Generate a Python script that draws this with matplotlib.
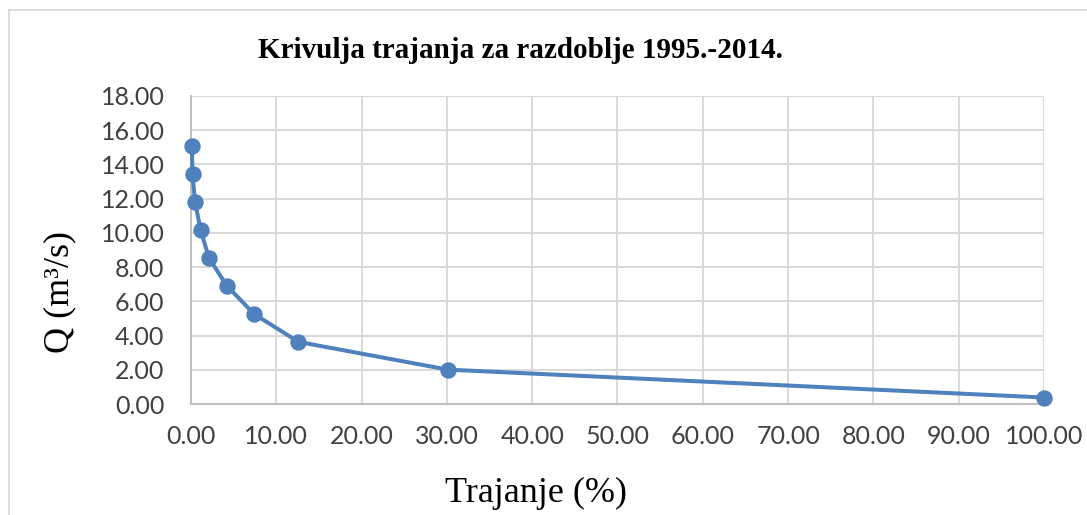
import numpy as np
import matplotlib.pyplot as plt
from matplotlib.lines import Line2D

# duration curve values
trajanje = [0.1, 0.18, 0.47, 1.13, 2.1, 4.2, 7.4, 12.6, 30.1, 100.0]
protok = [15.07, 13.43, 11.81, 10.17, 8.54, 6.91, 5.26, 3.63, 2.01, 0.38]

x_ticks = np.arange(0, 101, 10)
y_ticks = np.arange(0, 19, 2)

blue = '#4F81BD'
grid_col = '#D9D9D9'
text_col = '#404040'

fig = plt.figure(figsize=(10.87, 5.15), dpi=100)
ax = fig.add_axes([0.1757, 0.2155, 0.7847, 0.5981])

ax.plot(trajanje, protok, '-o', color=blue, lw=2.9, markersize=10.8, zorder=3, clip_on=False)

ax.set_xlim(0, 100)
ax.set_ylim(0, 18)
ax.set_xticks(x_ticks)
ax.set_yticks(y_ticks)
ax.set_xticklabels(['%.2f' % v for v in x_ticks])
ax.set_yticklabels(['%.2f' % v for v in y_ticks])

ax.grid(True, color=grid_col, lw=1.4)
ax.set_axisbelow(True)
for s in ['top', 'right']:
    ax.spines[s].set_visible(False)
for s in ['left', 'bottom']:
    ax.spines[s].set_color('#BFBFBF')
    ax.spines[s].set_linewidth(1.4)

ax.tick_params(axis='both', length=0, labelsize=18, labelcolor=text_col)
ax.tick_params(axis='x', pad=15)
ax.tick_params(axis='y', pad=19)
for lab in ax.get_xticklabels() + ax.get_yticklabels():
    lab.set_fontfamily('Lato')

ax.set_xlabel('Trajanje (%)', family='Liberation Serif', fontsize=26, va='center')
ax.xaxis.set_label_coords(0.404, -0.289)
ax.set_ylabel('Q (m³/s)', family='Liberation Serif', fontsize=26, va='center')
ax.yaxis.set_label_coords(-0.1536, 0.364)

fig.text(0.479, 0.902, 'Krivulja trajanja za razdoblje 1995.-2014.', ha='center', va='center',
         family='Liberation Serif', fontweight='bold', fontsize=21)

# chart area border (top and left visible)
fig.add_artist(Line2D([9 / 1087, 1], [1 - 10 / 515, 1 - 10 / 515], color='#D9D9D9', lw=1.3))
fig.add_artist(Line2D([9 / 1087, 9 / 1087], [0, 1 - 10 / 515], color='#D9D9D9', lw=1.3))

fig.savefig('out.png', dpi=100)
